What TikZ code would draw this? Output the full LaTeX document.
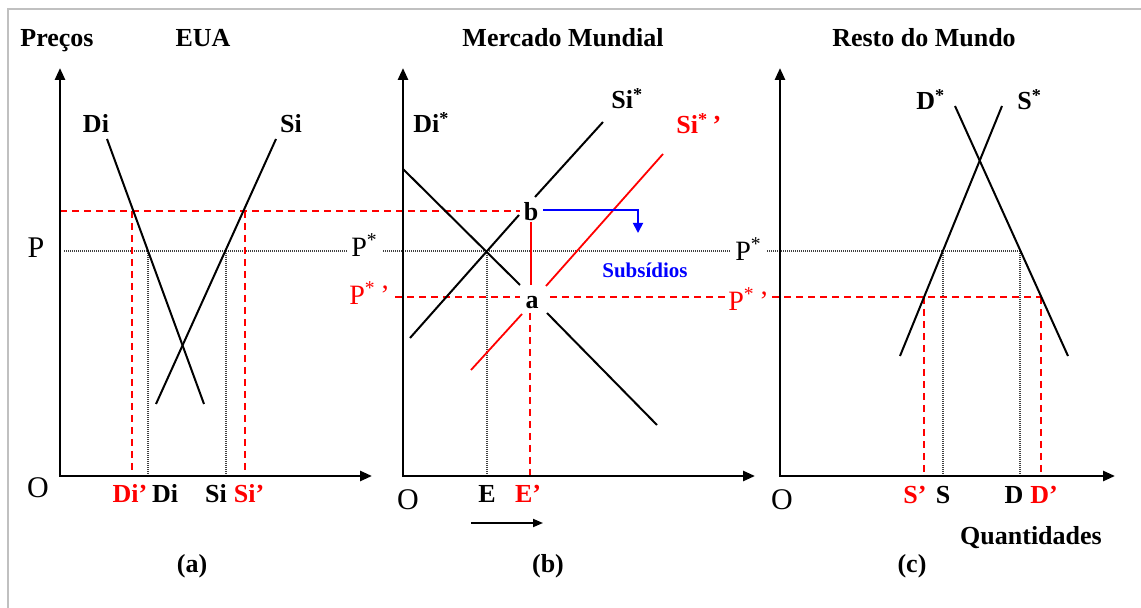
\documentclass[tikz,border=0pt]{standalone}
\usepackage{fontspec}
\setmainfont{Liberation Serif}
\usetikzlibrary{arrows.meta}
\definecolor{myred}{RGB}{255,0,0}
\definecolor{myblue}{RGB}{0,0,255}
\definecolor{framegray}{RGB}{192,192,192}
\tikzset{
 axisline/.style={line width=1.3pt, {Triangle[length=6pt,width=5pt]}-{Triangle[length=6pt,width=5pt]}},
 curve/.style={line width=1pt},
 redcurve/.style={line width=0.9pt, myred},
 reddash/.style={line width=0.75pt, myred, dash pattern=on 3.5pt off 2.5pt},
 blackdot/.style={line width=0.55pt, black!75, dash pattern=on 0.5pt off 0.5pt},
 bl/.style={font=\fontsize{13}{15}\selectfont\bfseries, inner sep=0pt, anchor=base},
 sub/.style={font=\fontsize{10.5}{12}\selectfont\bfseries, inner sep=0pt, anchor=base, myblue},
 rl/.style={font=\fontsize{14}{16}\selectfont, inner sep=0pt, anchor=base west},
 big/.style={font=\fontsize{15}{17}\selectfont, inner sep=0pt, anchor=base},
}
\begin{document}
\begin{tikzpicture}[x=0.5pt,y=-0.5pt]
\useasboundingbox (0,0) rectangle (1141,608);
\coordinate (fb) at (8,608); \coordinate (fc) at (8,9); \coordinate (fr) at (1141,9);
\draw[framegray, line width=1pt] (fb) -- (fc) -- (fr);

% ---------- coordinates ----------
% panel a
\coordinate (Ya) at (60,68); \coordinate (Oa) at (60,476); \coordinate (Xa) at (372,476);
\coordinate (DiA1) at (107,139); \coordinate (DiA2) at (204,404);
\coordinate (SiA1) at (276,139); \coordinate (SiA2) at (156,404);
% panel b
\coordinate (Yb) at (403,68); \coordinate (Ob) at (403,476); \coordinate (Xb) at (755,476);
\coordinate (DsB1) at (403,169); \coordinate (DsB2) at (520,285);
\coordinate (DsB3) at (547,313); \coordinate (DsB4) at (657,425);
\coordinate (SsB1) at (603,122); \coordinate (SsB2) at (535,197);
\coordinate (SsB3) at (519,215); \coordinate (SsB4) at (410,338);
\coordinate (SpB1) at (663,154); \coordinate (SpB2) at (546,286);
\coordinate (SpB3) at (522,314); \coordinate (SpB4) at (471,370);
% panel c
\coordinate (Yc) at (780,68); \coordinate (Oc) at (780,476); \coordinate (Xc) at (1115,476);
\coordinate (DsC1) at (955,106); \coordinate (DsC2) at (1068,356);
\coordinate (SsC1) at (1002,106); \coordinate (SsC2) at (900,356);

% ---------- dotted lines (P*) ----------
\coordinate (d1) at (64,251); \coordinate (d2) at (347,251);
\coordinate (d3) at (383,251); \coordinate (d4) at (730,251);
\coordinate (d5) at (767,251); \coordinate (d6) at (1020,251);
\draw[blackdot] (d1) -- (d2);
\draw[blackdot] (d3) -- (d4);
\draw[blackdot] (d5) -- (d6);
\foreach \x/\n in {148/v1,226/v2,487/v3,943/v4,1020/v5}{
  \coordinate (\n t) at (\x,251); \coordinate (\n b) at (\x,476);
  \draw[blackdot] (\n t) -- (\n b);
}

% ---------- red dashed ----------
\coordinate (r1) at (60,211); \coordinate (r2) at (520,211);
\draw[reddash] (r1) -- (r2);
\foreach \x/\n in {132/w1,245/w2}{
  \coordinate (\n t) at (\x,211); \coordinate (\n b) at (\x,476);
  \draw[reddash] (\n t) -- (\n b);
}
\coordinate (q1) at (395,297); \coordinate (q2) at (520,297);
\coordinate (q3) at (550,297); \coordinate (q4) at (727,297);
\coordinate (q5) at (772,297); \coordinate (q6) at (1041,297);
\draw[reddash] (q1) -- (q2);
\draw[reddash] (q3) -- (q4);
\draw[reddash] (q5) -- (q6);
\coordinate (e1) at (530,313); \coordinate (e2) at (530,476);
\draw[reddash] (e1) -- (e2);
\foreach \x/\n in {924/u1,1041/u2}{
  \coordinate (\n t) at (\x,297); \coordinate (\n b) at (\x,476);
  \draw[reddash] (\n t) -- (\n b);
}
\coordinate (ba1) at (531,222); \coordinate (ba2) at (531,285);
\draw[redcurve] (ba1) -- (ba2);

% ---------- curves ----------
\draw[curve] (DiA1) -- (DiA2);
\draw[curve] (SiA1) -- (SiA2);
\draw[curve] (DsB1) -- (DsB2);
\draw[curve] (DsB3) -- (DsB4);
\draw[curve] (SsB1) -- (SsB2);
\draw[curve] (SsB3) -- (SsB4);
\draw[redcurve] (SpB1) -- (SpB2);
\draw[redcurve] (SpB3) -- (SpB4);
\draw[curve] (DsC1) -- (DsC2);
\draw[curve] (SsC1) -- (SsC2);

% blue subsidy arrow
\coordinate (s1) at (543,210); \coordinate (s2) at (638,210); \coordinate (s3) at (638,233);
\draw[myblue, line width=0.9pt, -{Triangle[length=5pt,width=5pt]}] (s1) -- (s2) -- (s3);
% arrow below E
\coordinate (t1) at (471,523); \coordinate (t2) at (543,523);
\draw[line width=0.9pt, -{Triangle[length=5pt,width=4pt]}] (t1) -- (t2);

% ---------- axes ----------
\draw[axisline] (Ya) -- (Oa) -- (Xa);
\draw[axisline] (Yb) -- (Ob) -- (Xb);
\draw[axisline] (Yc) -- (Oc) -- (Xc);

% ---------- labels ----------
\node[bl] (tPrecos) at (57,47) {Preços};
\node[bl] (tEUA) at (203,47) {EUA};
\node[bl] (tMM) at (563,47) {Mercado Mundial};
\node[bl] (tRM) at (924,47) {Resto do Mundo};

\node[bl] (lDi) at (96,133) {Di};
\node[bl] (lSi) at (291,133) {Si};
\node[bl, anchor=base west] (lDis) at (413,133) {Di\textsuperscript{*}};
\node[bl, anchor=base west] (lSis) at (611,109) {Si\textsuperscript{*}};
\node[bl, anchor=base west, myred] (lSisp) at (676,134) {Si\textsuperscript{*}\,’};
\node[bl, anchor=base west] (lDsc) at (916,110) {D\textsuperscript{*}};
\node[bl, anchor=base west] (lSsc) at (1017,110) {S\textsuperscript{*}};

\node[big] (lP) at (36,258) {P};
\node[big] (lOa) at (38,498) {O};
\node[big] (lOb) at (408,510) {O};
\node[big] (lOc) at (782,510) {O};

\node[rl] (lPs1) at (351,257) {P\textsuperscript{*}};
\node[rl] (lPs2) at (735,261) {P\textsuperscript{*}};
\node[rl, myred] (lPsp1) at (349,305) {P\textsuperscript{*}\,’};
\node[rl, myred] (lPsp2) at (728,311) {P\textsuperscript{*}\,’};

\node[bl] (la) at (532,309) {a};
\node[bl] (lb) at (531,221) {b};
\node[sub] (lSub) at (645,278) {Subsídios};

\node[bl, myred] (xDip) at (130,503) {Di’};
\node[bl] (xDi) at (165,503) {Di};
\node[bl] (xSi) at (216,503) {Si};
\node[bl, myred] (xSip) at (249,503) {Si’};
\node[bl] (xE) at (487,503) {E};
\node[bl, myred] (xEp) at (528,503) {E’};
\node[bl, myred] (xSp) at (915,504) {S’};
\node[bl] (xS) at (943,504) {S};
\node[bl] (xD) at (1014,504) {D};
\node[bl, myred] (xDp) at (1044,504) {D’};

\node[bl] (lQ) at (1031,545) {Quantidades};
\node[bl] (ca) at (192,573) {(a)};
\node[bl] (cb) at (548,573) {(b)};
\node[bl] (cc) at (912,573) {(c)};
\end{tikzpicture}
\end{document}
